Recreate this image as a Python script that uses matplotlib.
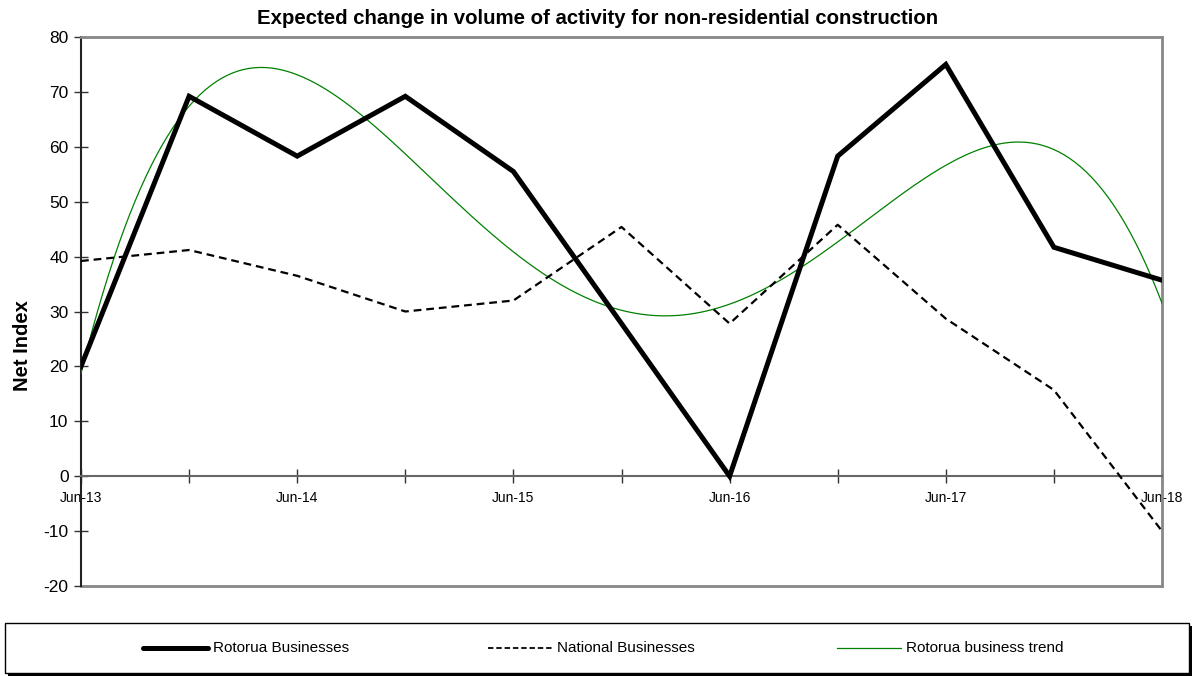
import numpy as np
import matplotlib
matplotlib.use("Agg")
import matplotlib.pyplot as plt
from matplotlib.lines import Line2D
from matplotlib.patches import Rectangle

periods = ['Jun-13', 'Dec-13', 'Jun-14', 'Dec-14', 'Jun-15', 'Dec-15',
           'Jun-16', 'Dec-16', 'Jun-17', 'Dec-17', 'Jun-18']
rotorua = [20.0, 69.2, 58.3, 69.2, 55.5, 27.8, 0.0, 58.3, 75.0, 41.7, 35.7]
national = [39.2, 41.2, 36.5, 30.0, 32.0, 45.4, 27.8, 45.8, 28.7, 15.7, -10.0]
trend_order = 4  # Excel-style polynomial trendline of the Rotorua series

plt.rcParams['font.family'] = ['Liberation Sans', 'DejaVu Sans']

fig = plt.figure(figsize=(11.96, 6.76), dpi=100)
W, H = 1196, 676
ax = fig.add_axes([81 / W, 1 - 586 / H, (1162 - 81) / W, (586 - 37) / H])

x = np.arange(len(periods))
xs = np.linspace(0, len(periods) - 1, 400)
coef = np.polyfit(x, rotorua, trend_order)
ax.plot(xs, np.polyval(coef, xs), color='#008000', lw=0.9, zorder=3)
ax.plot(x, national, color='black', lw=1.6, dashes=(3.5, 2.2), zorder=4)
ax.plot(x, rotorua, color='black', lw=3.6, solid_joinstyle='miter', zorder=5)

ax.set_xlim(0, len(periods) - 1)
ax.set_ylim(-20, 80)
ax.set_yticks(np.arange(-20, 81, 10))
ax.set_yticklabels([str(v) for v in range(-20, 81, 10)], fontsize=12.5)

ax.set_xticks(x)
ax.set_xticklabels([p if p.startswith('Jun') else '' for p in periods], fontsize=10)

for s in ['top', 'right']:
    ax.spines[s].set_color('#888888')
    ax.spines[s].set_linewidth(2)
ax.spines['left'].set_color('#222222')
ax.spines['left'].set_linewidth(1.5)
ax.spines['bottom'].set_position(('data', 0))
ax.spines['bottom'].set_color('#666666')
ax.spines['bottom'].set_linewidth(1.5)
ax.add_line(Line2D([0, 1], [0, 0], transform=ax.transAxes, color='#888888',
                   lw=2, clip_on=False, zorder=2))

ax.tick_params(axis='x', direction='inout', length=10, width=1, color='#333333', pad=6)
ax.tick_params(axis='y', direction='inout', length=10, width=1, color='#333333', pad=4)

fig.text(22 / W, 1 - 346 / H, 'Net Index', rotation=90, ha='center', va='center',
         fontsize=14.5, fontweight='bold')
fig.text(0.5, 1 - 18 / H,
         'Expected change in volume of activity for non-residential construction',
         ha='center', va='center', fontsize=14.7, fontweight='bold')

# legend box with shadow
fig.patches.append(Rectangle((8 / W, 1 - 676 / H), 1184 / W, 50 / H,
                             transform=fig.transFigure, facecolor='black',
                             edgecolor='none', zorder=1))
fig.patches.append(Rectangle((5 / W, 1 - 673 / H), 1184 / W, 50 / H,
                             transform=fig.transFigure, facecolor='white',
                             edgecolor='black', lw=1, zorder=2))
ly = 1 - 648 / H
items = [
    (143, 208, 213, 'Rotorua Businesses', dict(color='black', lw=3.6, solid_capstyle='round')),
    (488, 553, 557, 'National Businesses', dict(color='black', lw=1.3, dashes=(3, 1.6))),
    (837, 901, 906, 'Rotorua business trend', dict(color='#008000', lw=0.9)),
]
for x0, x1, tx, label, style in items:
    fig.add_artist(Line2D([x0 / W, x1 / W], [ly, ly], transform=fig.transFigure,
                          zorder=3, **style))
    fig.text(tx / W, ly, label, ha='left', va='center', fontsize=11, zorder=3)

fig.savefig('out.png', dpi=100)
